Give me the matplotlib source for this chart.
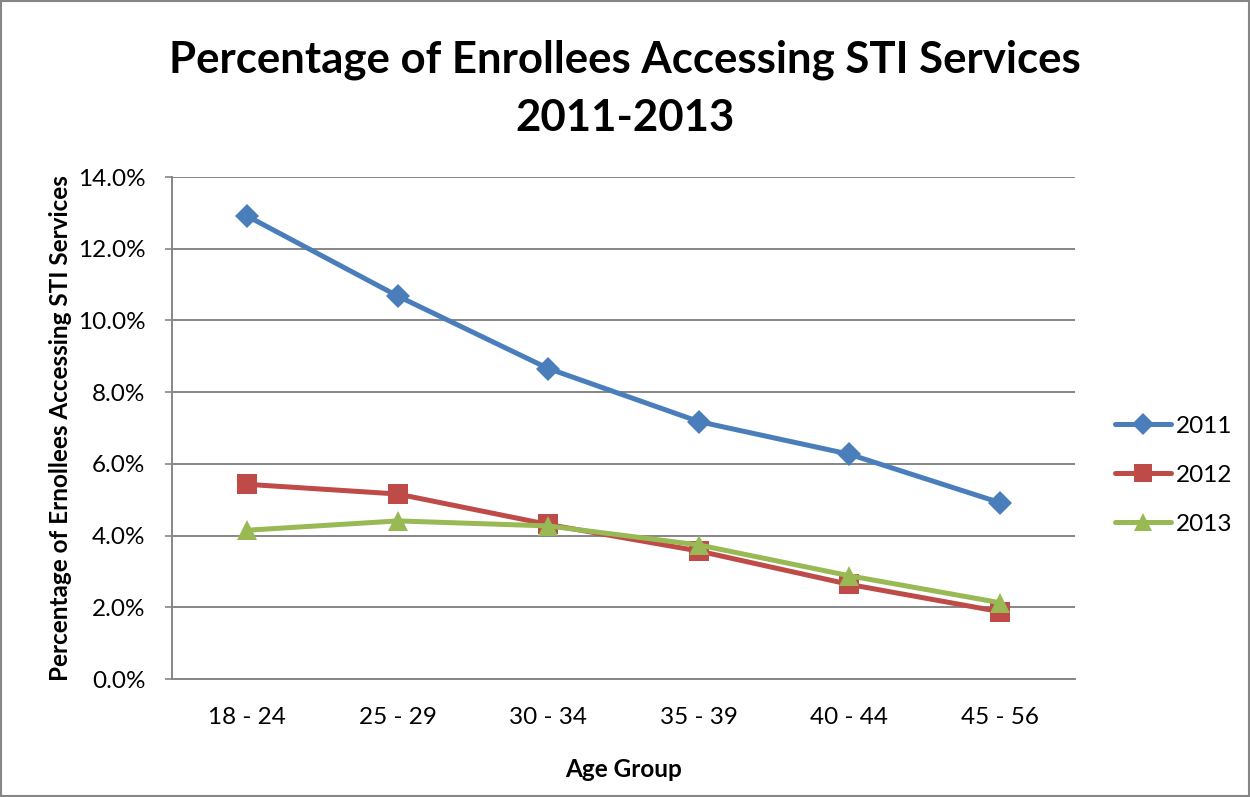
import matplotlib.pyplot as plt
from matplotlib.patches import Rectangle
from matplotlib.ticker import FuncFormatter

age_groups = ["18 - 24", "25 - 29", "30 - 34", "35 - 39", "40 - 44", "45 - 56"]
pct_2011 = [12.91, 10.68, 8.66, 7.18, 6.27, 4.92]
pct_2012 = [5.43, 5.16, 4.31, 3.57, 2.64, 1.88]
pct_2013 = [4.15, 4.41, 4.27, 3.74, 2.88, 2.13]
y_ticks = [0, 2, 4, 6, 8, 10, 12, 14]

series = [
    ("2011", pct_2011, "#4A7EBB", "D", 12.5),
    ("2012", pct_2012, "#BE4B48", "s", 14.5),
    ("2013", pct_2013, "#98B954", "^", 15),
]

plt.rcParams["font.family"] = ["Lato", "DejaVu Sans"]

fig = plt.figure(figsize=(12.5, 7.97), dpi=100)
ax = fig.add_axes([0.1376, 0.148, 0.7224, 0.6299])

x = range(len(age_groups))
for name, vals, color, marker, msize in series:
    ax.plot(x, vals, color=color, lw=3.6, marker=marker, markersize=msize,
            markeredgewidth=0, label=name, solid_capstyle="round", zorder=3)

ax.set_xlim(-0.5, len(age_groups) - 0.5)
ax.set_ylim(0, 14)
ax.set_yticks(y_ticks)
ax.yaxis.set_major_formatter(FuncFormatter(lambda v, p: f"{v:.1f}%"))
ax.set_xticks(list(x))
ax.set_xticklabels(age_groups)
ax.tick_params(axis="both", labelsize=17.5, colors="#000000")
ax.tick_params(axis="y", length=5, color="#868686", width=1.2, pad=14)
ax.tick_params(axis="x", length=0, pad=20)

ax.grid(axis="y", color="#868686", lw=1.4, zorder=1)
for side in ["top", "right"]:
    ax.spines[side].set_visible(False)
for side in ["left", "bottom"]:
    ax.spines[side].set_color("#868686")
    ax.spines[side].set_linewidth(1.4)

ax.set_xlabel("Age Group", fontsize=17.5, fontweight="bold", labelpad=22)
ax.set_ylabel("Percentage of Ernollees Accessing STI Services", fontsize=17.5,
              fontweight="bold", labelpad=4)

fig.text(0.5, 1 - 60 / 797, "Percentage of Enrollees Accessing STI Services",
         fontsize=31.5, fontweight="bold", ha="center", va="center")
fig.text(0.5, 1 - 118 / 797, "2011-2013",
         fontsize=31.5, fontweight="bold", ha="center", va="center")

ax.legend(loc="center left", bbox_to_anchor=(1.044, 0.406), frameon=False,
          fontsize=17.5, handlelength=2.3, labelspacing=1.15, handletextpad=0.2,
          borderpad=0, borderaxespad=0, markerscale=0.9)

fig.patches.append(Rectangle((0.001, 0.001), 0.998, 0.998, transform=fig.transFigure,
                             fill=False, edgecolor="#868686", lw=1.5))

fig.savefig("out.png", dpi=100, facecolor="white")
